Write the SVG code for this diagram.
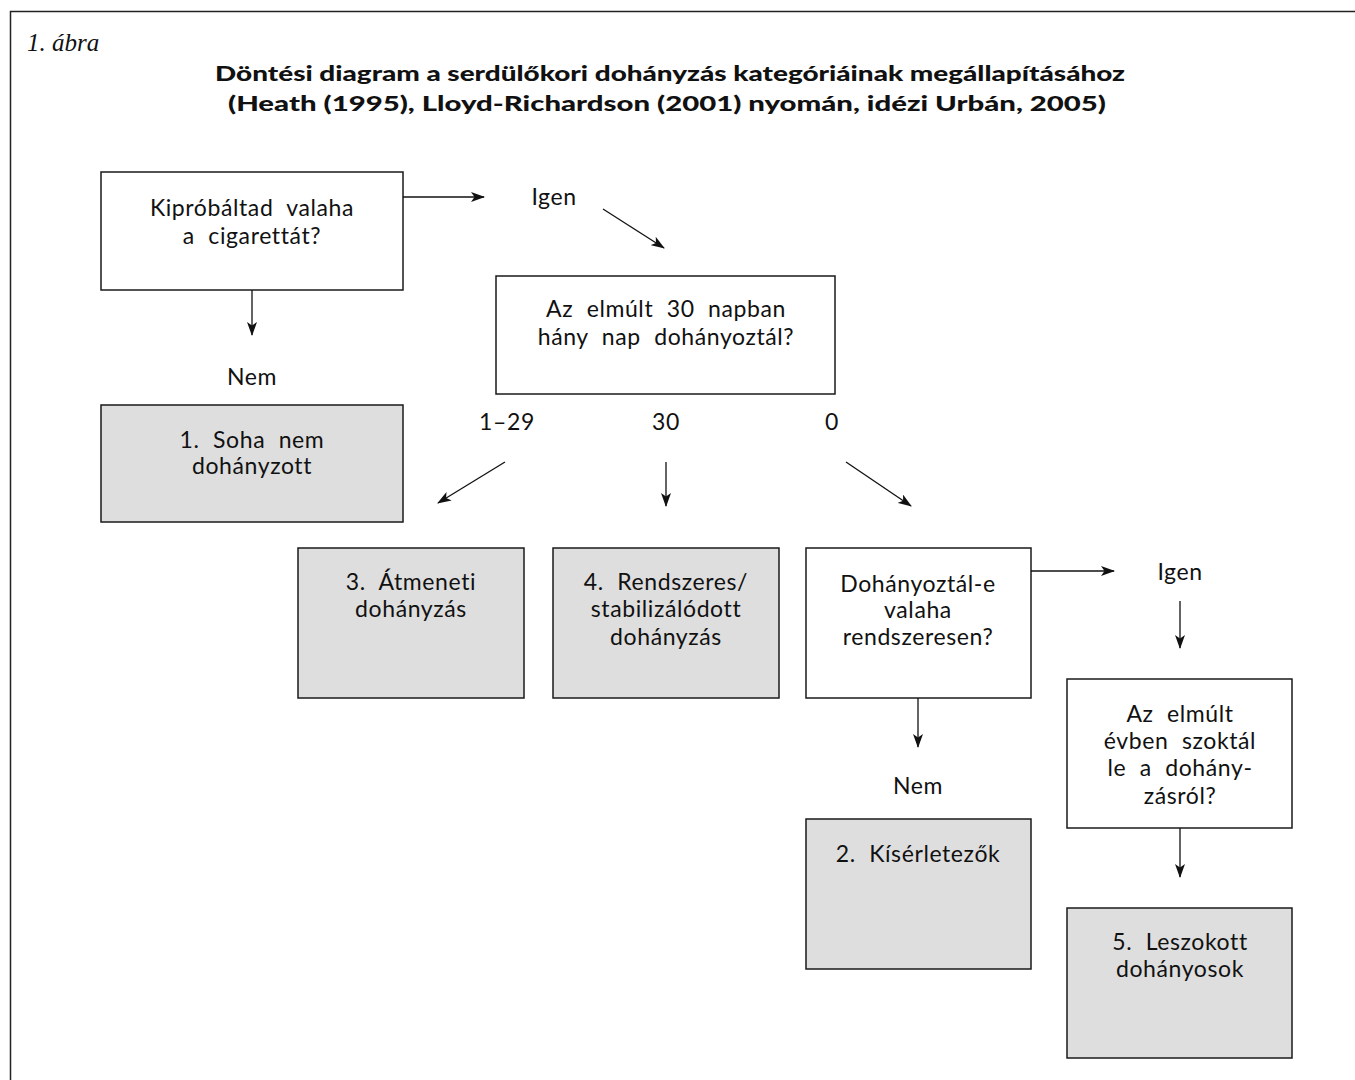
<svg xmlns="http://www.w3.org/2000/svg" width="1355" height="1080" viewBox="0 0 1355 1080">
<defs>
<marker id="ah" viewBox="0 0 14 10" refX="13" refY="5" markerWidth="14" markerHeight="10" markerUnits="userSpaceOnUse" orient="auto">
<path d="M0,0 L14,5 L0,10 L3.5,5 z" fill="#111"/>
</marker>
</defs>
<style>
.box{fill:#fff;stroke:#1a1a1a;stroke-width:1.5}
.gray{fill:#dedede;stroke:#1a1a1a;stroke-width:1.5}
.t{font-family:Lato,"Liberation Sans",sans-serif;font-size:23px;fill:#111;text-anchor:middle;letter-spacing:0.6px;word-spacing:7px}
.title{font-family:Lato,"Liberation Sans",sans-serif;font-weight:900;font-size:21px;fill:#111;text-anchor:middle}
.conn line{stroke:#111;stroke-width:1.3;marker-end:url(#ah)}
</style>
<rect width="1355" height="1080" fill="#fff"/>
<path d="M10.5,1080 L10.5,11.5 L1355,11.5" fill="none" stroke="#222" stroke-width="1.5"/>
<text x="27" y="51" font-family="'Liberation Serif',serif" font-style="italic" font-size="25" fill="#111">1. ábra</text>
<text class="title" x="670" y="81" textLength="910" lengthAdjust="spacingAndGlyphs">Döntési diagram a serdülőkori dohányzás kategóriáinak megállapításához</text>
<text class="title" x="667" y="111" textLength="878" lengthAdjust="spacingAndGlyphs">(Heath (1995), Lloyd-Richardson (2001) nyomán, idézi Urbán, 2005)</text>

<g id="q1">
<rect class="box" x="101" y="172" width="302" height="118"/>
<text class="t" x="252" y="216">Kipróbáltad valaha</text>
<text class="t" x="252" y="244">a cigarettát?</text>
</g>
<g id="igen1"><text class="t" x="554" y="205">Igen</text></g>
<g id="nem1"><text class="t" x="252" y="385">Nem</text></g>
<g id="q2">
<rect class="box" x="496" y="276" width="339" height="118"/>
<text class="t" x="666" y="317">Az elmúlt 30 napban</text>
<text class="t" x="666" y="345">hány nap dohányoztál?</text>
</g>
<g id="c1">
<rect class="gray" x="101" y="405" width="302" height="117"/>
<text class="t" x="252" y="448">1. Soha nem</text>
<text class="t" x="252" y="474">dohányzott</text>
</g>
<g id="l129"><text class="t" x="507" y="430">1–29</text></g>
<g id="l30"><text class="t" x="666" y="430">30</text></g>
<g id="l0"><text class="t" x="832" y="430">0</text></g>
<g id="c3">
<rect class="gray" x="298" y="548" width="226" height="150"/>
<text class="t" x="411" y="590">3. Átmeneti</text>
<text class="t" x="411" y="617">dohányzás</text>
</g>
<g id="c4">
<rect class="gray" x="553" y="548" width="226" height="150"/>
<text class="t" x="666" y="590">4. Rendszeres/</text>
<text class="t" x="666" y="617">stabilizálódott</text>
<text class="t" x="666" y="645">dohányzás</text>
</g>
<g id="q3">
<rect class="box" x="806" y="548" width="225" height="150"/>
<text class="t" x="918" y="592">Dohányoztál-e</text>
<text class="t" x="918" y="618">valaha</text>
<text class="t" x="918" y="645">rendszeresen?</text>
</g>
<g id="igen2"><text class="t" x="1180" y="580">Igen</text></g>
<g id="nem2"><text class="t" x="918" y="794">Nem</text></g>
<g id="q4">
<rect class="box" x="1067" y="679" width="225" height="149"/>
<text class="t" x="1180" y="722">Az elmúlt</text>
<text class="t" x="1180" y="749">évben szoktál</text>
<text class="t" x="1180" y="776">le a dohány-</text>
<text class="t" x="1180" y="804">zásról?</text>
</g>
<g id="c2">
<rect class="gray" x="806" y="819" width="225" height="150"/>
<text class="t" x="918" y="862">2. Kísérletezők</text>
</g>
<g id="c5">
<rect class="gray" x="1067" y="908" width="225" height="150"/>
<text class="t" x="1180" y="950">5. Leszokott</text>
<text class="t" x="1180" y="977">dohányosok</text>
</g>

<g class="conn" id="connectors">
<line x1="403" y1="197" x2="484" y2="197"/>
<line x1="603" y1="209" x2="664" y2="248"/>
<line x1="252" y1="290" x2="252" y2="335"/>
<line x1="505" y1="462" x2="438" y2="503"/>
<line x1="666" y1="462" x2="666" y2="506"/>
<line x1="846" y1="462" x2="911" y2="506"/>
<line x1="1031" y1="571" x2="1114" y2="571"/>
<line x1="1180" y1="601" x2="1180" y2="648"/>
<line x1="918" y1="698" x2="918" y2="747"/>
<line x1="1180" y1="828" x2="1180" y2="877"/>
</g>
</svg>
